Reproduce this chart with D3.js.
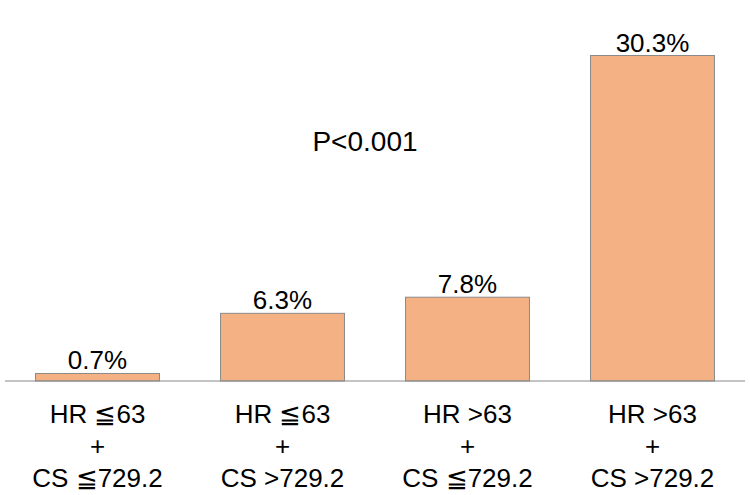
<!DOCTYPE html>
<html>
<head>
<meta charset="utf-8">
<script src="https://cdn.jsdelivr.net/npm/d3@7"></script>
<style>
  body { margin: 0; background: #fff; }
  text { font-family: 'Liberation Sans', Arial, sans-serif; fill: #000; }
</style>
</head>
<body>
<div id="chart"></div>
<script>
let groups = ['g1', 'g2', 'g3', 'g4']
let values = [0.7, 6.3, 7.8, 30.3]
let hrLabels = ['HR ≦63', 'HR ≦63', 'HR >63', 'HR >63']
let csLabels = ['CS ≦729.2', 'CS >729.2', 'CS ≦729.2', 'CS >729.2']
let pText = 'P<0.001'

let width = 750
let height = 495

let svg = d3
  .select('#chart')
  .append('svg')
  .attr('width', width)
  .attr('height', height)

let x = d3
  .scaleBand()
  .domain(groups)
  .range([5, 745])
  .paddingInner(0.33)
  .paddingOuter(0.165)

let y = d3.scaleLinear().domain([0, 30.3]).range([381, 55.5])

svg
  .selectAll('.bar')
  .data(values)
  .enter()
  .append('rect')
  .attr('class', 'bar')
  .attr('x', (d, i) => x(groups[i]))
  .attr('y', d => y(d))
  .attr('width', x.bandwidth())
  .attr('height', d => y(0) - y(d))
  .attr('fill', '#F4B183')
  .attr('stroke', '#8a8a8a')
  .attr('stroke-width', 1)

svg
  .append('line')
  .attr('x1', 5)
  .attr('x2', 745)
  .attr('y1', y(0))
  .attr('y2', y(0))
  .attr('stroke', '#8a8a8a')
  .attr('stroke-width', 1.2)

svg
  .selectAll('.value-label')
  .data(values)
  .enter()
  .append('text')
  .attr('class', 'value-label')
  .attr('x', (d, i) => x(groups[i]) + x.bandwidth() / 2)
  .attr('y', d => y(d) - 4)
  .attr('text-anchor', 'middle')
  .attr('font-size', 26)
  .text(d => d.toFixed(1) + '%')

let ticks = svg
  .selectAll('.tick-label')
  .data(groups)
  .enter()
  .append('text')
  .attr('class', 'tick-label')
  .attr('text-anchor', 'middle')
  .attr('font-size', 26)

ticks.each(function (d, i) {
  let cx = x(d) + x.bandwidth() / 2
  let t = d3.select(this)
  t.append('tspan').attr('x', cx).attr('y', 423).text(hrLabels[i])
  t.append('tspan').attr('x', cx).attr('y', 455).text('+')
  t.append('tspan').attr('x', cx).attr('y', 487).text(csLabels[i])
})

svg
  .append('text')
  .attr('x', 365)
  .attr('y', 151)
  .attr('text-anchor', 'middle')
  .attr('font-size', 28)
  .text(pText)
</script>
</body>
</html>
